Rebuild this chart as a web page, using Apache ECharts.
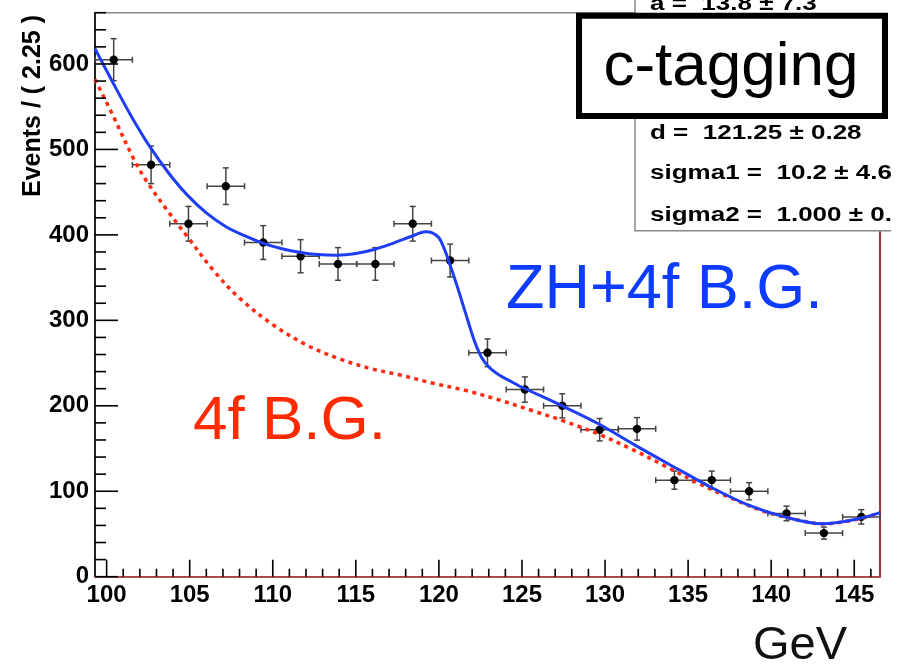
<!DOCTYPE html>
<html><head><meta charset="utf-8">
<script src="https://cdn.jsdelivr.net/npm/echarts@6/dist/echarts.min.js"></script>
<style>html,body{margin:0;padding:0;background:#fff}#c{width:907px;height:665px}</style>
</head><body><div id="c"></div>
<script>
// ---- data ----
const binCenters = [100.425,102.675,104.925,107.175,109.425,111.675,113.925,116.175,118.425,120.675,122.925,125.175,127.425,129.675,131.925,134.175,136.425,138.675,140.925,143.175,145.425];
const counts = [605,482,413,457,391,375,366,366,413,370,262,219,200,172,173,113,113,100,74,51,70];
const errors = [24.6,22.0,20.3,21.4,19.8,19.4,19.1,19.1,20.3,19.2,16.2,14.8,14.1,13.1,13.2,10.6,10.6,10.0,8.6,7.1,8.4];
const halfBin = 1.125;

const fitX = [99.3,100.4,101.5,102.6,103.72,104.86,106.0,107.14,108.26,109.36,110.5,111.6,112.7,113.86,115.0,116.1,117.3,118.33,119.2,119.6,120.0,120.3,120.6,121.1,121.6,122.1,122.5,122.8,123.2,123.6,124.4,125.1,127.3,129.6,131.8,134.1,136.3,138.6,140.8,143.1,145.3,146.55];
const fitY = [618,577.4,538.3,503.2,472.7,446.5,425.8,410.2,399.3,390.7,384,379.7,377,376.2,378.2,382.9,390.7,398.1,403.6,402.4,396.6,384.8,369,339.9,308.7,278,259,250,242,236.4,227.8,220.8,201,179,154,129,105.5,84,70,62,68,75];

const bgX = [99.3,100.4,101.6,102.4,103.6,104.9,106.4,108.0,110.0,112.0,114.0,116.0,117.6,119.6,121.6,123.6,125.6,127.6,129.6,131.6,133.6,135.6,137.6,139.6,141.6,143.1,145.3,146.55];
const bgY = [582,539,490,463,430,397,359,326,295,271.5,255,243,236.4,226.6,218,207,194.5,181.6,166.9,149.3,129.7,109.4,91.9,76.2,66.4,61.8,67.7,75];

const xMajorTicks = [100,105,110,115,120,125,130,135,140,145];
const xMinorTicks = [101,102,103,104,106,107,108,109,111,112,113,114,116,117,118,119,121,122,123,124,126,127,128,129,131,132,133,134,136,137,138,139,141,142,143,144,146];
const yMajorTicks = [0,100,200,300,400,500,600];
const yMinorTicks = [20,40,60,80,120,140,160,180,220,240,260,280,320,340,360,380,420,440,460,480,520,540,560,580,620,640,660];

const xMin = 99.3, xMax = 146.55, yMin = 0, yMax = 660;

const statLines = ['a =  13.8 \u00b1 7.3', 'd =  121.25 \u00b1 0.28', 'sigma1 =  10.2 \u00b1 4.6', 'sigma2 =  1.000 \u00b1 0.0'];

// ---- chart ----
const FONT = '"Liberation Sans", Arial, Helvetica, sans-serif';
const chart = echarts.init(document.getElementById('c'), null, {renderer:'canvas'});

const points = binCenters.map((x,i)=>[x, counts[i], errors[i], halfBin]);
const fitData = fitX.map((x,i)=>[x, fitY[i]]);
const bgData = bgX.map((x,i)=>[x, bgY[i]]);

function baseX(extra){
  return Object.assign({type:'value', min:xMin, max:xMax, position:'bottom', offset:0, splitLine:{show:false}, axisTick:{show:false}}, extra);
}
function baseY(extra){
  return Object.assign({type:'value', min:yMin, max:yMax, offset:0, splitLine:{show:false}, axisTick:{show:false}}, extra);
}

// tick marks drawn through the axis scales
function xTickSeries(values, len){
  return {type:'custom', silent:true, z:5, clip:false, data:values.map(v=>[v, yMin]), encode:{x:0, y:1},
    renderItem:function(p, api){
      const c = api.coord([api.value(0), api.value(1)]);
      return {type:'line', shape:{x1:c[0], y1:c[1], x2:c[0], y2:c[1]-len}, style:{stroke:'#000', lineWidth:1.6}};
    }};
}
function yTickSeries(values, len){
  return {type:'custom', silent:true, z:5, clip:false, data:values.map(v=>[xMin, v]), encode:{x:0, y:1},
    renderItem:function(p, api){
      const c = api.coord([api.value(0), api.value(1)]);
      return {type:'line', shape:{x1:c[0], y1:c[1], x2:c[0]+len, y2:c[1]}, style:{stroke:'#000', lineWidth:1.6}};
    }};
}

const option = {
  animation:false,
  backgroundColor:'#fff',
  grid:{left:95, right:27, top:12.7, bottom:88.3, show:true, borderColor:'#888', borderWidth:1.5, backgroundColor:'transparent'},
  xAxis:[
    baseX({axisLine:{show:true, onZero:false, lineStyle:{color:'#b03030', width:1.5}},
      axisLabel:{show:true, customValues:xMajorTicks, margin:7, color:'#000', fontSize:24, fontWeight:'bold', fontFamily:FONT}})
  ],
  yAxis:[
    baseY({position:'left', axisLine:{show:true, onZero:false, lineStyle:{color:'#000', width:1.6}},
      axisLabel:{show:true, customValues:yMajorTicks, margin:6, padding:[10,0,0,0], color:'#000', fontSize:24, fontWeight:'bold', fontFamily:FONT}}),
    baseY({position:'right', axisLine:{show:true, onZero:false, lineStyle:{color:'#a01818', width:1.5}},
      axisLabel:{show:false}})
  ],
  series:[
    xTickSeries(xMajorTicks, 17),
    xTickSeries(xMinorTicks, 8),
    yTickSeries(yMajorTicks, 23),
    yTickSeries(yMinorTicks, 11),
    {
      type:'custom', name:'data', xAxisIndex:0, yAxisIndex:0, z:2,
      data:points,
      encode:{x:0, y:1},
      renderItem:function(params, api){
        const x = api.value(0), y = api.value(1), e = api.value(2), h = api.value(3);
        const c = api.coord([x,y]);
        const l = api.coord([x-h,y]), r = api.coord([x+h,y]);
        const t = api.coord([x,y+e]), b = api.coord([x,y-e]);
        const cap = 3;
        const st = {stroke:'#444', lineWidth:1.5};
        return {type:'group', children:[
          {type:'line', shape:{x1:l[0],y1:l[1],x2:r[0],y2:r[1]}, style:st},
          {type:'line', shape:{x1:l[0],y1:l[1]-cap,x2:l[0],y2:l[1]+cap}, style:st},
          {type:'line', shape:{x1:r[0],y1:r[1]-cap,x2:r[0],y2:r[1]+cap}, style:st},
          {type:'line', shape:{x1:t[0],y1:t[1],x2:b[0],y2:b[1]}, style:st},
          {type:'line', shape:{x1:t[0]-cap,y1:t[1],x2:t[0]+cap,y2:t[1]}, style:st},
          {type:'line', shape:{x1:b[0]-cap,y1:b[1],x2:b[0]+cap,y2:b[1]}, style:st},
          {type:'circle', shape:{cx:c[0],cy:c[1],r:4.2}, style:{fill:'#000'}}
        ]};
      }
    },
    {
      type:'line', name:'4f B.G.', data:bgData, smooth:0.35, showSymbol:false, symbol:'none', z:3,
      lineStyle:{color:'#ff2a10', width:3.5, type:[4,4.5], cap:'butt'}
    },
    {
      type:'line', name:'ZH+4f B.G.', data:fitData, smooth:0.35, showSymbol:false, symbol:'none', z:4,
      lineStyle:{color:'#1e3ef5', width:3}
    }
  ],
  graphic:[
    // y axis title
    {type:'text', x:33, y:106, rotation:Math.PI/2, z:20,
      style:{text:'Events / ( 2.25 )', fill:'#000', font:'bold 25px '+FONT, align:'center', verticalAlign:'middle'}},
    // stats box
    {type:'rect', shape:{x:635, y:-2, width:270, height:232.7}, z:30,
      style:{fill:'#fff', stroke:'#888', lineWidth:1.5}},
    {type:'text', x:650, y:4, scaleX:1.3, z:31, style:{text:statLines[0], x:0, y:0, fill:'#000', font:'bold 20px '+FONT, verticalAlign:'middle'}},
    {type:'text', x:650, y:133.4, scaleX:1.3, z:31, style:{text:statLines[1], x:0, y:0, fill:'#000', font:'bold 20px '+FONT, verticalAlign:'middle'}},
    {type:'text', x:650, y:173.4, scaleX:1.3, z:31, style:{text:statLines[2], x:0, y:0, fill:'#000', font:'bold 20px '+FONT, verticalAlign:'middle'}},
    {type:'text', x:650, y:215, scaleX:1.3, z:31, style:{text:statLines[3], x:0, y:0, fill:'#000', font:'bold 20px '+FONT, verticalAlign:'middle'}},
    // crop edge
    {type:'rect', shape:{x:891, y:0, width:20, height:233}, z:40, style:{fill:'#fff'}},
    // c-tagging box
    {type:'rect', shape:{x:579, y:15.7, width:306, height:100.3}, z:50,
      style:{fill:'#fff', stroke:'#000', lineWidth:6}},
    {type:'text', x:731, y:68, z:51, style:{text:'c-tagging', fill:'#000', font:'62px '+FONT, align:'center', verticalAlign:'middle'}},
    // annotations
    {type:'text', x:506, y:291, z:20, style:{text:'ZH+4f B.G.', fill:'#0d3bff', font:'63px '+FONT, align:'left', verticalAlign:'middle'}},
    {type:'text', x:193, y:422, z:20, style:{text:'4f B.G.', fill:'#ff2a00', font:'62px '+FONT, align:'left', verticalAlign:'middle'}},
    {type:'text', x:847, y:646, z:20, style:{text:'GeV', fill:'#111', font:'47px '+FONT, align:'right', verticalAlign:'middle'}}
  ]
};
chart.setOption(option);
</script>
</body></html>
